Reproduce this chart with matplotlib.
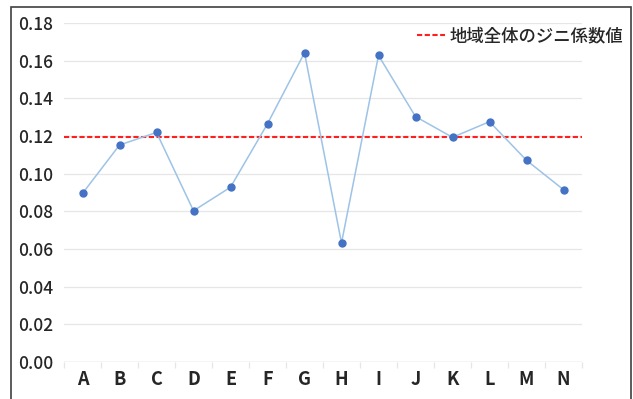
import matplotlib
matplotlib.use("Agg")
import matplotlib.pyplot as plt
from matplotlib.patches import Rectangle
from matplotlib.lines import Line2D

plt.rcParams['font.family'] = ['Noto Sans CJK JP', 'DejaVu Sans']

categories = ["A", "B", "C", "D", "E", "F", "G", "H", "I", "J", "K", "L", "M", "N"]
gini = [0.0895, 0.1152, 0.1219, 0.0803, 0.0928, 0.1265, 0.1642, 0.0632,
        0.1628, 0.1303, 0.1193, 0.1276, 0.1071, 0.0915]
overall_gini = 0.1195
overall_label = "地域全体のジニ係数値"
yticks = [0.00, 0.02, 0.04, 0.06, 0.08, 0.10, 0.12, 0.14, 0.16, 0.18]

W, H = 633, 399
fig = plt.figure(figsize=(W / 100, H / 100), dpi=100)
fig.patch.set_facecolor("white")

# outer chart frame
fig.patches.append(Rectangle((11 / W, -0.05), 620 / W, 1.05 - 7 / H,
                             transform=fig.transFigure, fill=False,
                             edgecolor="#404040", linewidth=1.2))

ax = fig.add_axes([64 / W, 1 - 362 / H, 518 / W, 339 / H])
x = list(range(len(categories)))

ax.plot(x, gini, color="#9dc3e6", linewidth=1.1, zorder=3)
ax.plot(x, gini, linestyle="none", marker="o", markersize=5.0,
        color="#4472c4", zorder=4)
ax.axhline(overall_gini, color="#ff1f1f", linestyle=(0, (2.5, 1.2)),
           linewidth=1.5, zorder=2)

ax.set_xlim(-0.5, len(categories) - 0.5)
ax.set_ylim(0, 0.18)
ax.set_yticks(yticks)
ax.set_yticklabels([f"{v:.2f}" for v in yticks], fontsize=12.5,
                   fontweight="medium", color="#262626")
ax.set_xticks(x)
ax.set_xticklabels(categories, fontsize=13, fontweight="bold", color="#262626")
ax.set_xticks([i - 0.5 for i in range(len(categories) + 1)], minor=True)

ax.grid(axis="y", color="#e6e6e6", linewidth=0.9)
ax.set_axisbelow(True)
for s in ax.spines.values():
    s.set_visible(False)
ax.tick_params(axis="y", length=0, pad=8)
ax.tick_params(axis="x", which="major", length=0, pad=6)
ax.tick_params(axis="x", which="minor", length=4, color="#e6e6e6", width=0.9)
ax.axhline(0, color="#e0e0e0", linewidth=1.0, zorder=1)

handle = Line2D([], [], color="#ff1f1f", linestyle=(0, (2.5, 1.2)), linewidth=1.5)
fig.legend([handle], [overall_label], loc="center right",
           bbox_to_anchor=(630 / W, 1 - 36 / H), frameon=False,
           handlelength=1.6, handletextpad=0.25,
           borderaxespad=0, labelcolor="#262626",
           prop={"size": 12.5, "weight": "medium"})

fig.savefig("out.png", dpi=100, facecolor="white")
